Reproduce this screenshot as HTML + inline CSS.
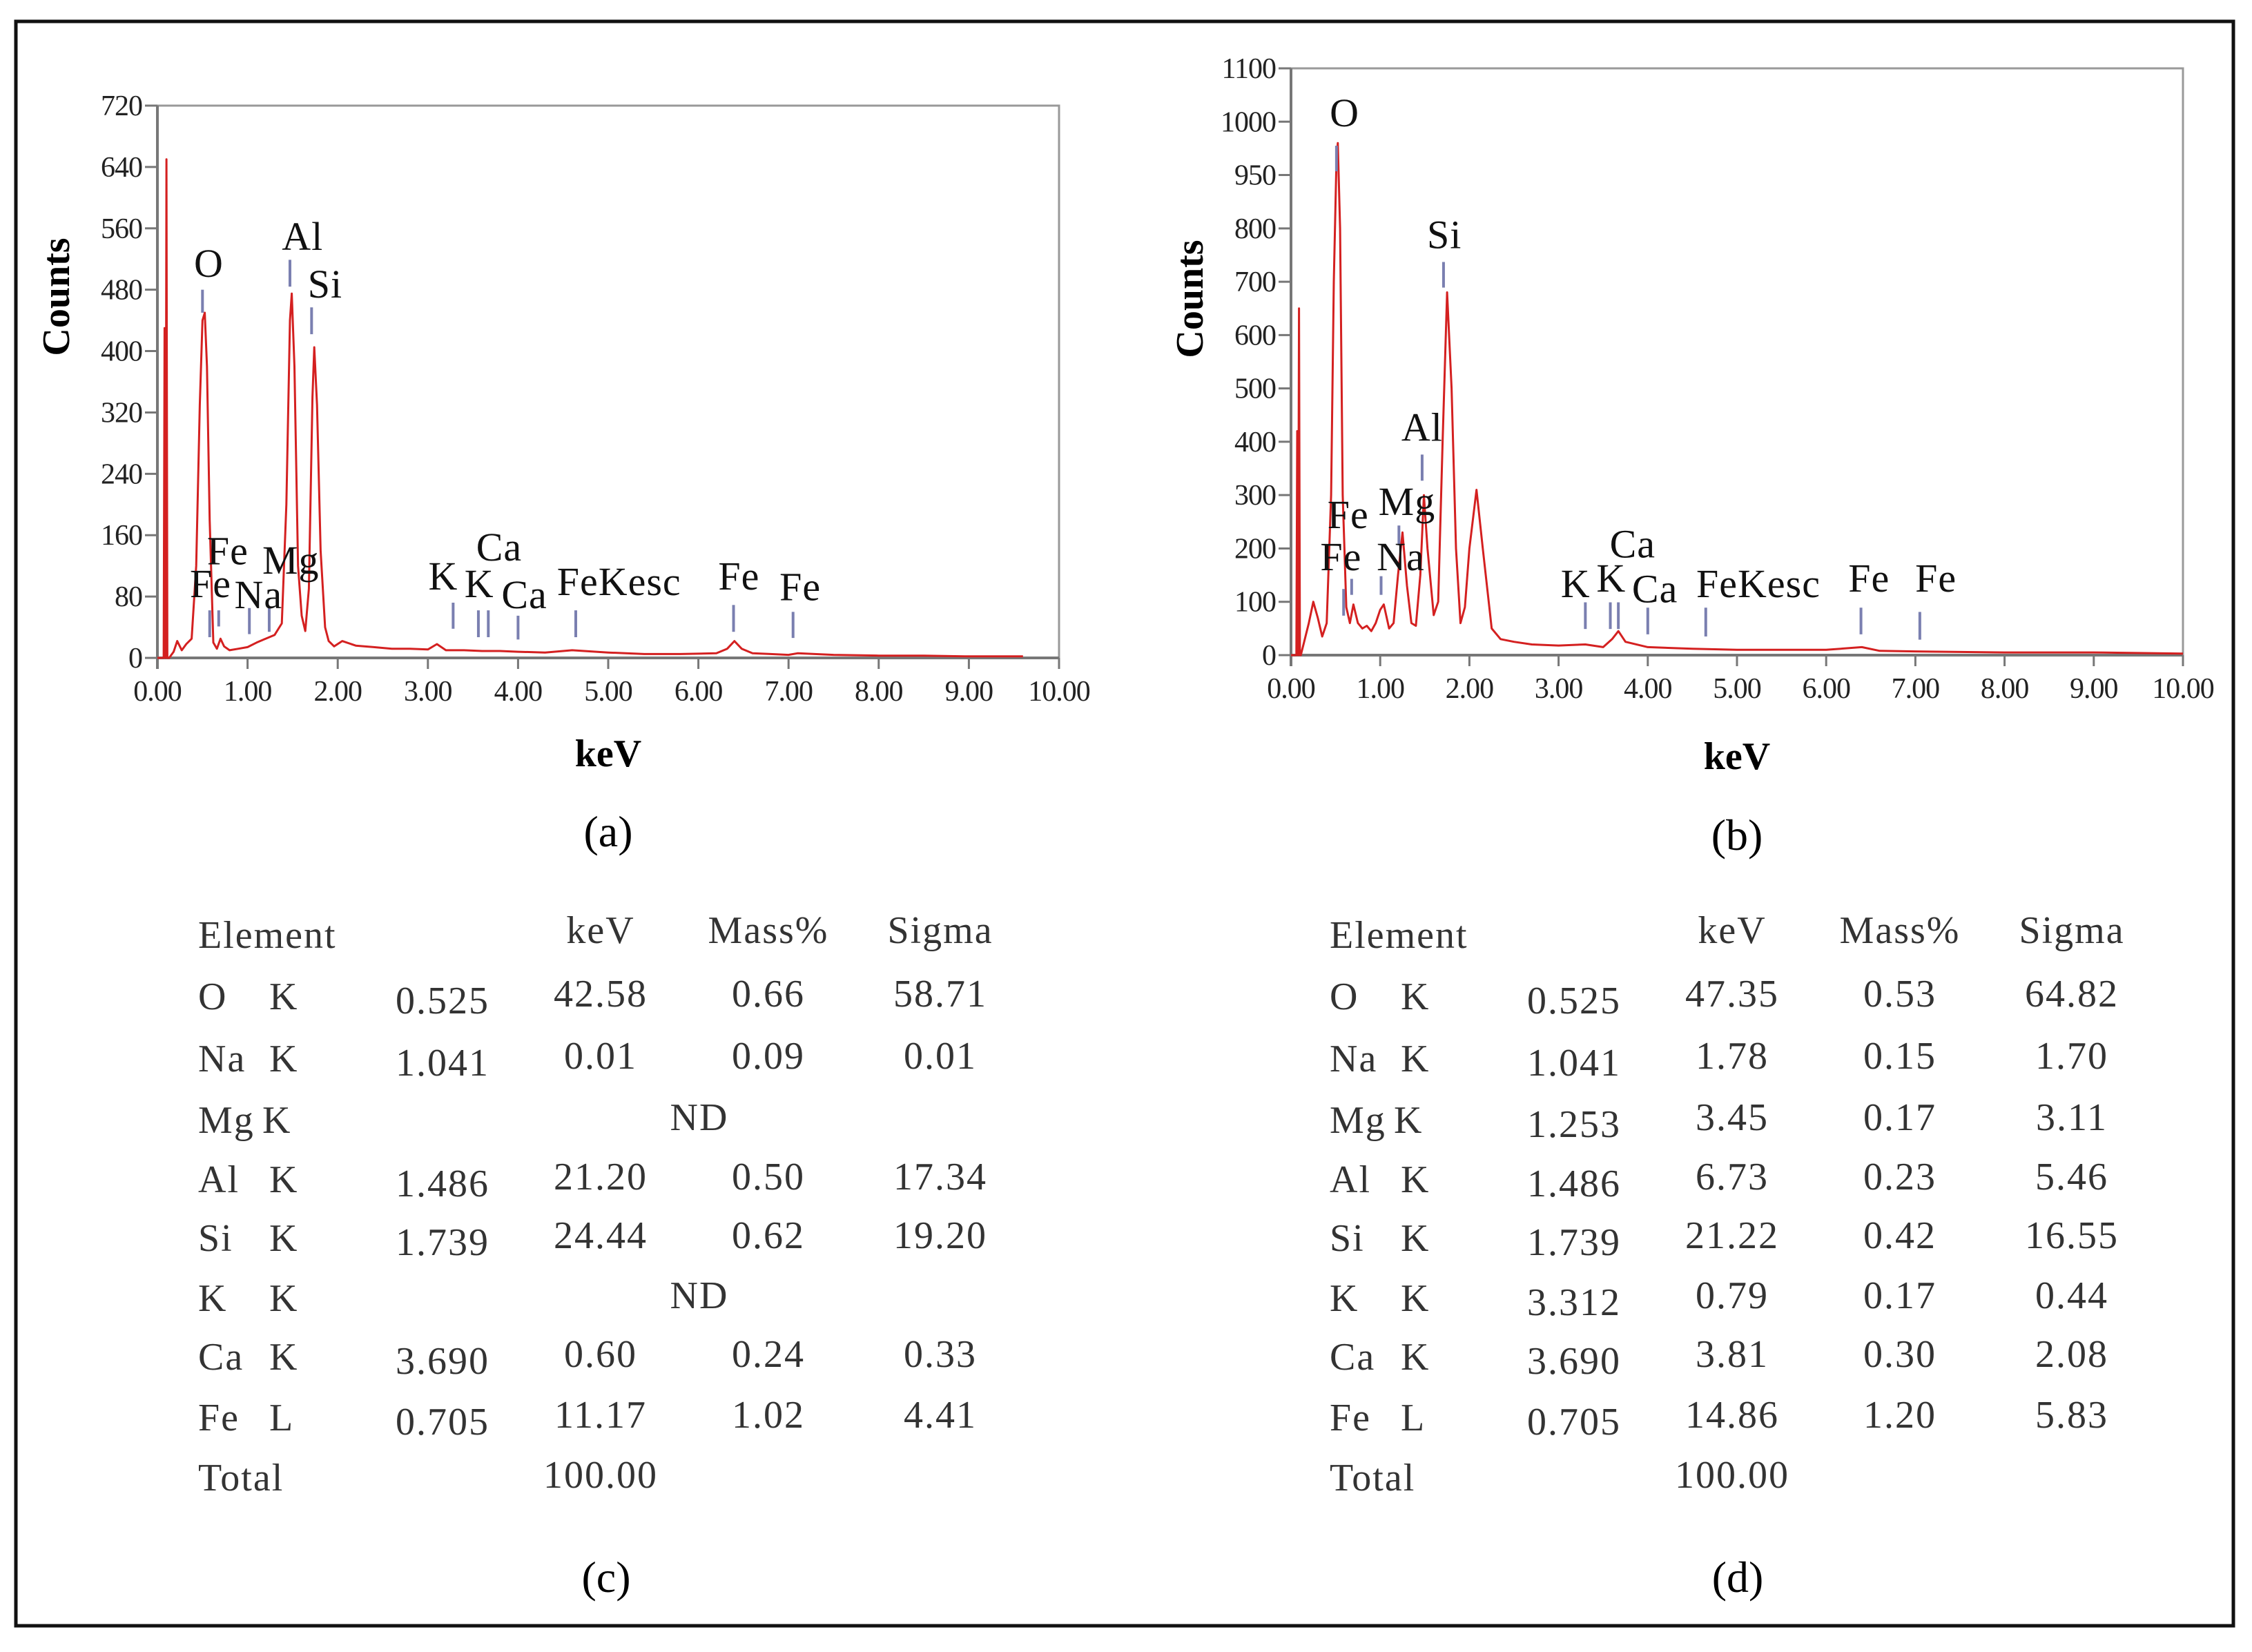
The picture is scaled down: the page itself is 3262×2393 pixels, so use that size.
<!DOCTYPE html>
<html><head><meta charset="utf-8">
<style>
html,body{margin:0;padding:0;background:#fff;}
svg{display:block;font-family:"Liberation Serif",serif;}
</style></head>
<body>
<svg id="fig" width="3262" height="2393" viewBox="0 0 3262 2393" xmlns="http://www.w3.org/2000/svg">
<rect x="23" y="31" width="3212" height="2324" fill="none" stroke="#111" stroke-width="5"/>
<g id="chartA"></g>
<g id="chartB"></g>
<g id="tableC"></g>
<g id="tableD"></g>
</svg>
<script>
// ---------- Spectrum (a) data ----------
const keVA = [0.0,0.07,0.08,0.09,0.1,0.11,0.13,0.18,0.22,0.27,0.32,0.38,0.43,0.47,0.5,0.525,0.55,0.58,0.62,0.66,0.7,0.74,0.8,0.9,1.0,1.1,1.2,1.3,1.38,1.43,1.47,1.49,1.52,1.56,1.6,1.64,1.68,1.72,1.74,1.77,1.81,1.86,1.9,1.96,2.05,2.2,2.4,2.6,2.8,3.0,3.1,3.2,3.4,3.6,3.8,4.0,4.3,4.6,5.0,5.4,5.8,6.2,6.32,6.4,6.48,6.6,6.8,7.0,7.1,7.5,8.0,8.5,9.0,9.6];
const cntA = [0,0,430,0,650,0,0,8,22,10,18,25,120,330,440,450,380,180,20,12,25,15,10,12,14,20,25,30,45,200,440,475,380,120,55,35,90,340,405,330,140,40,22,15,22,16,14,12,12,11,18,10,10,9,9,8,7,10,7,5,5,6,12,22,12,6,5,4,6,4,3,3,2,2];
const tickYA = [0,80,160,240,320,400,480,560,640,720];
const tickLabA = ["0","80","160","240","320","400","480","560","640","720"];
const markA = [[0.50,480,450],[1.47,519,484],[1.71,457,422],[0.58,62,27],[0.68,62,41],[1.02,65,31],[1.24,65,34],[3.28,72,38],[3.56,62,27],[3.67,62,27],[4.00,55,24],[4.64,62,27],[6.39,69,34],[7.05,60,26]];
const labA = [["O",0.57,497],["Al",1.61,532],["Si",1.86,470],["Fe",0.59,79],["Fe",0.78,122],["Na",1.12,65],["Mg",1.48,110],["K",3.17,89],["K",3.57,79],["Ca",3.79,127],["Ca",4.07,65],["FeKesc",5.12,82],["Fe",6.45,89],["Fe",7.13,75]];

// ---------- Spectrum (b) data ----------
const keVB = [0.0,0.06,0.07,0.08,0.09,0.1,0.11,0.14,0.2,0.25,0.3,0.35,0.4,0.45,0.48,0.51,0.525,0.55,0.58,0.62,0.66,0.7,0.75,0.8,0.85,0.9,0.95,1.0,1.04,1.1,1.15,1.2,1.25,1.3,1.35,1.4,1.45,1.49,1.53,1.6,1.65,1.7,1.75,1.8,1.85,1.9,1.95,2.0,2.08,2.15,2.25,2.35,2.5,2.7,3.0,3.3,3.5,3.6,3.67,3.75,4.0,4.5,5.0,5.5,6.0,6.4,6.6,7.0,7.5,8.0,9.0,10.0];
const cntB = [0,0,420,0,650,0,0,20,60,100,70,35,60,300,700,930,960,800,300,90,60,95,60,50,55,45,60,85,95,50,60,150,230,130,60,55,150,300,200,75,100,400,680,500,200,60,90,200,310,200,50,30,25,20,18,20,15,30,45,25,15,12,10,10,10,15,8,7,6,5,5,3];
const tickYB = [0,100,200,300,400,500,600,700,800,900,1000,1100];
const tickLabB = ["0","100","200","300","400","500","600","700","800","950","1000","1100"];
const markB = [[0.51,955,907],[1.71,737,689],[1.47,376,327],[1.21,243,208],[0.68,143,113],[0.59,124,74],[1.01,148,113],[3.30,99,49],[3.58,99,49],[3.67,99,49],[4.00,89,39],[4.65,89,35],[6.39,89,39],[7.05,81,29]];
const labB = [["O",0.60,991],["Si",1.72,763],["Al",1.47,402],["Mg",1.30,263],["Fe",0.64,238],["Fe",0.56,159],["Na",1.23,159],["K",3.19,109],["K",3.59,119],["Ca",3.83,183],["Ca",4.08,99],["FeKesc",5.24,109],["Fe",6.48,119],["Fe",7.23,119]];
const tickX = ["0.00","1.00","2.00","3.00","4.00","5.00","6.00","7.00","8.00","9.00","10.00"];

const NS="http://www.w3.org/2000/svg";
function mk(parent,tag,attrs,text){const e=document.createElementNS(NS,tag);for(const k in attrs)e.setAttribute(k,attrs[k]);if(text!==undefined)e.textContent=text;parent.appendChild(e);return e;}

function drawChart(g,cfg){
  const {x0,x1,y0,y1,ymax,keV,cnt,ticks,tickLabs,marks,labs,countsX,countsY,titleY,capY,cap}=cfg;
  const sx=v=>x0+(x1-x0)*v/10;
  const sy=v=>y0-(y0-y1)*v/ymax;
  let e=mk(g,'rect',{x:x0,y:y1,width:x1-x0,height:y0-y1,fill:'none',stroke:'#999','stroke-width':3});
  
  
  e=mk(g,'line',{x1:x0,y1:y0,x2:x1,y2:y0,stroke:'#777','stroke-width':4});
  
  
  e=mk(g,'line',{x1:x0,y1:y0+16,x2:x0,y2:y1,stroke:'#777','stroke-width':4});
  
  
  ticks.forEach((t,i)=>{
    const y=sy(t);
    let l=mk(g,'line',{x1:x0-18,y1:y,x2:x0,y2:y,stroke:'#777','stroke-width':3});
    
    
    let tx=mk(g,'text',{x:x0-22,y:y+14,'font-size':42,'text-anchor':'end',fill:'#222','letter-spacing':-1},tickLabs[i]);
    
    
  });
  tickX.forEach((t,i)=>{
    const x=sx(i);
    let l=mk(g,'line',{x1:x,y1:y0,x2:x,y2:y0+16,stroke:'#777','stroke-width':3});
    
    
    let tx=mk(g,'text',{x:x,y:y0+62,'font-size':42,'text-anchor':'middle',fill:'#222','letter-spacing':-1},t);
    
    
  });
  let pts=keV.map((k,i)=>sx(k).toFixed(1)+','+sy(cnt[i]).toFixed(1)).join(' ');
  e=mk(g,'polyline',{points:pts,fill:'none',stroke:'#d42020','stroke-width':3,'stroke-linejoin':'round'});
  
  
  marks.forEach(m=>{
    let l=mk(g,'line',{x1:sx(m[0]),y1:sy(m[1]),x2:sx(m[0]),y2:sy(m[2]),stroke:'#7a7fb0','stroke-width':4});
    
    
  });
  labs.forEach(m=>{
    let t=mk(g,'text',{x:sx(m[1]),y:sy(m[2]),'font-size':58,'text-anchor':'middle',fill:'#111','letter-spacing':1},m[0]);
    
    
  });
  e=mk(g,'text',{x:countsX,y:countsY,'font-size':56,'font-weight':'bold','text-anchor':'middle',transform:`rotate(-90 ${countsX} ${countsY})`},'Counts');
  
  
  e=mk(g,'text',{x:(x0+x1)/2,y:titleY,'font-size':56,'font-weight':'bold','text-anchor':'middle'},'keV');
  
  
  e=mk(g,'text',{x:(x0+x1)/2,y:capY,'font-size':64,'text-anchor':'middle'},cap);
  
  
}
drawChart(document.getElementById('chartA'),{x0:228,x1:1534,y0:953,y1:153,ymax:720,keV:keVA,cnt:cntA,ticks:tickYA,tickLabs:tickLabA,marks:markA,labs:labA,countsX:100,countsY:430,titleY:1110,capY:1226,cap:'(a)'});
drawChart(document.getElementById('chartB'),{x0:1870,x1:3162,y0:949,y1:99,ymax:1100,keV:keVB,cnt:cntB,ticks:tickYB,tickLabs:tickLabB,marks:markB,labs:labB,countsX:1742,countsY:433,titleY:1114,capY:1231,cap:'(b)'});

// ---------- Tables ----------
const colsHead = ["Element","keV","Mass%","Sigma"];
const rowsC = [["O","K","0.525","42.58","0.66","58.71"],["Na","K","1.041","0.01","0.09","0.01"],["Mg","K","","ND","",""],["Al","K","1.486","21.20","0.50","17.34"],["Si","K","1.739","24.44","0.62","19.20"],["K","K","","ND","",""],["Ca","K","3.690","0.60","0.24","0.33"],["Fe","L","0.705","11.17","1.02","4.41"],["Total","","","100.00","",""]];
const rowsD = [["O","K","0.525","47.35","0.53","64.82"],["Na","K","1.041","1.78","0.15","1.70"],["Mg","K","1.253","3.45","0.17","3.11"],["Al","K","1.486","6.73","0.23","5.46"],["Si","K","1.739","21.22","0.42","16.55"],["K","K","3.312","0.79","0.17","0.44"],["Ca","K","3.690","3.81","0.30","2.08"],["Fe","L","0.705","14.86","1.20","5.83"],["Total","","","100.00","",""]];

function drawTable(g,rows,dx,cap){
  const rowY=[1462,1552,1641,1727,1812,1899,1984,2072,2159];
  const addT=(x,y,s,anchor,name)=>{let t=mk(g,'text',{x:x+dx,y:y,'font-size':56,'text-anchor':anchor,fill:'#333','letter-spacing':2},s);};
  addT(287,1373,colsHead[0],'start','header-element');
  addT(870,1366,colsHead[1],'middle','header-kev');
  addT(1113,1366,colsHead[2],'middle','header-mass');
  addT(1362,1366,colsHead[3],'middle','header-sigma');
  rows.forEach((r,i)=>{
    const y=rowY[i];
    addT(287,y,r[0],'start','element-name');
    if(r[1]) addT(r[0]==='Mg'?380:390,y,r[1],'start','element-line');
    if(r[2]) addT(641,y+6,r[2],'middle','element-energy');
    if(r[3]) addT(r[3]==='ND'?1013:870,y-4,r[3],'middle','cell-value');
    if(r[4]) addT(1113,y-4,r[4],'middle','cell-value');
    if(r[5]) addT(1362,y-4,r[5],'middle','cell-value');
  });
  let c=mk(g,'text',{x:878+dx,y:2306,'font-size':64,'text-anchor':'middle'},cap);
  
  
}
drawTable(document.getElementById('tableC'),rowsC,0,'(c)');
drawTable(document.getElementById('tableD'),rowsD,1639,'(d)');
</script>
</body></html>
